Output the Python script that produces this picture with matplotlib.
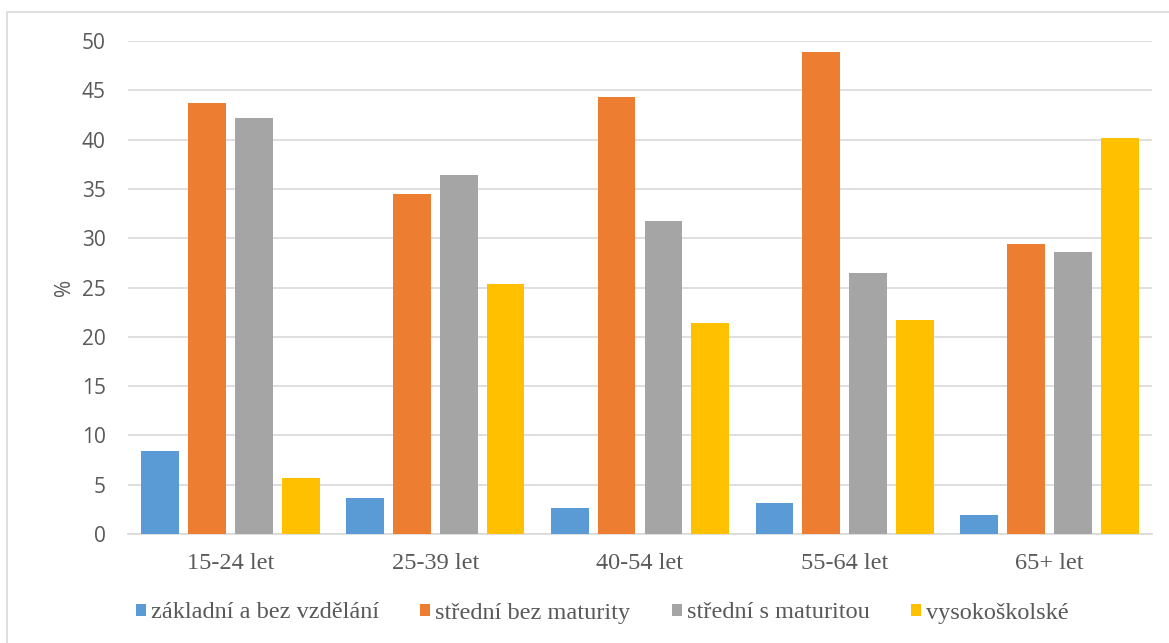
import numpy as np
import matplotlib.pyplot as plt
from matplotlib.patches import Rectangle

categories = ['15-24 let', '25-39 let', '40-54 let', '55-64 let', '65+ let']
series_names = ['základní a bez vzdělání', 'střední bez maturity',
                'střední s maturitou', 'vysokoškolské']
zakladni = [8.4, 3.7, 2.6, 3.1, 1.9]
bez_maturity = [43.7, 34.5, 44.3, 48.9, 29.4]
s_maturitou = [42.2, 36.4, 31.7, 26.5, 28.6]
vysokoskolske = [5.7, 25.4, 21.4, 21.7, 40.2]
colors = ['#5B9BD5', '#ED7D31', '#A5A5A5', '#FFC000']

fig = plt.figure(figsize=(11.69, 6.43), dpi=100)
# outer chart frame (clipped at right and bottom like the reference)
fig.patches.append(Rectangle((7 / 1169, -0.1), 1.2, 1.1 - 12 / 643,
                             transform=fig.transFigure, fill=False,
                             edgecolor='#D9D9D9', linewidth=1.2))

ax = fig.add_axes([128 / 1169, 1 - 534 / 643, 1024 / 1169, 493 / 643])

x = np.arange(len(categories))
width = 0.185
step = 0.229
data = [zakladni, bez_maturity, s_maturitou, vysokoskolske]
for i, (vals, name, c) in enumerate(zip(data, series_names, colors)):
    ax.bar(x + (i - 1.5) * step, vals, width, color=c, label=name, zorder=3)

ax.set_xlim(-0.5, len(categories) - 0.5)
ax.set_ylim(0, 50)
ax.set_yticks(range(0, 51, 5))
ax.yaxis.grid(True, color='#D9D9D9', linewidth=1.2, zorder=0)
for s in ['top', 'right', 'left']:
    ax.spines[s].set_visible(False)
ax.spines['bottom'].set_color('#D9D9D9')
ax.spines['bottom'].set_linewidth(1.2)
ax.tick_params(axis='both', length=0)
ax.tick_params(axis='y', pad=16, labelsize=15, labelcolor='#595959')
for t in ax.get_yticklabels():
    t.set_fontfamily('Open Sans')
ax.set_xticks(x)
ax.set_xticklabels(categories, fontfamily='Liberation Serif', fontsize=17.5,
                   color='#595959')
ax.tick_params(axis='x', pad=14)
ax.set_ylabel('%', fontfamily='Open Sans', fontsize=15, color='#595959',
              labelpad=5)

leg = fig.legend(loc='center', bbox_to_anchor=(0.515, 1 - 613 / 643), ncol=4,
                 frameon=False, handlelength=0.42, handleheight=0.42,
                 handletextpad=0.2, columnspacing=1.7,
                 prop={'family': 'Liberation Serif', 'size': 17.5})
for t in leg.get_texts():
    t.set_color('#595959')

fig.savefig('out.png', dpi=100)
